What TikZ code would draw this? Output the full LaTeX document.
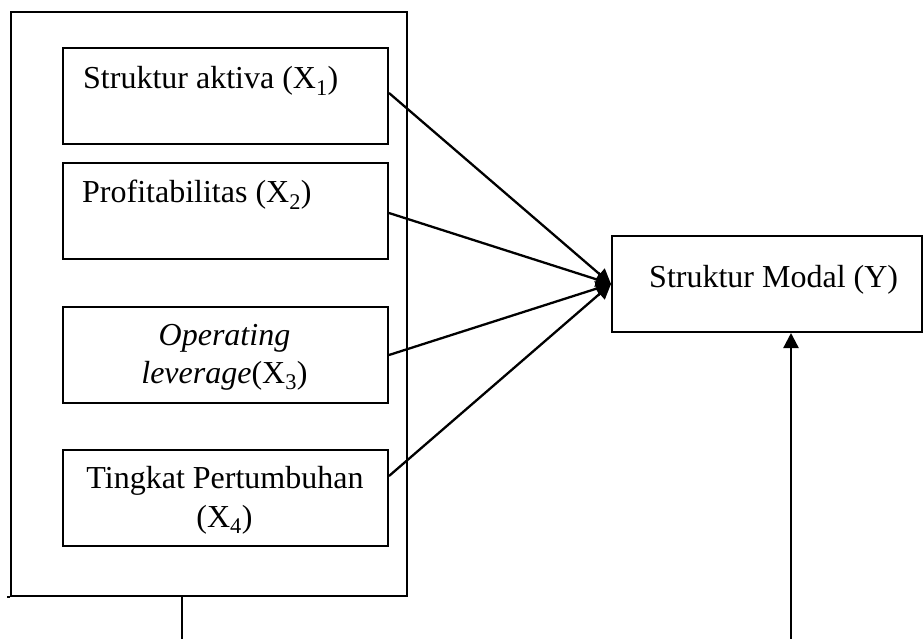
\documentclass[tikz,border=0pt]{standalone}
\usepackage{fontspec}
\setmainfont{Liberation Serif}
\usetikzlibrary{arrows.meta,calc}
\begin{document}
\begin{tikzpicture}[x=1pt,y=-1pt,
  box/.style={draw,line width=2pt,rectangle,inner sep=0pt,anchor=north west,minimum width=325pt,minimum height=96pt},
  txt/.style={inner sep=0pt,font=\fontsize{32}{38}\selectfont},
  conn/.style={line width=2.3pt,-{Triangle[length=15pt,width=15pt]}},
  plain/.style={line width=2.3pt}]
\useasboundingbox (0,0) rectangle (923,639);
% outer box
\node[draw,line width=2.3pt,rectangle,inner sep=0pt,anchor=north west,minimum width=396pt,minimum height=584pt] (outer) at (10,11) {};
\coordinate (outerext) at ([xshift=-3pt]outer.south west);
\draw[plain] (outerext) -- (outer.south west);
% inner boxes
\node[box] (x1) at (62,47) {};
\node[box] (x2) at (62,162) {};
\node[box] (x3) at (62,306) {};
\node[box] (x4) at (62,449) {};
% Y box
\node[draw,line width=2pt,rectangle,inner sep=0pt,anchor=north west,minimum width=310pt,minimum height=96pt] (y) at (611,235) {};
% texts
\node[txt,anchor=base west] (t1) at (83,89) {Struktur aktiva (X\textsubscript{1})};
\node[txt,anchor=base west] (t2) at (82,203) {Profitabilitas (X\textsubscript{2})};
\node[txt,anchor=base] (t3a) at (224.5,345) {\textit{Operating}};
\node[txt,anchor=base] (t3b) at (224.5,383) {\textit{leverage}(X\textsubscript{3})};
\node[txt,anchor=base] (t4a) at (225,488) {Tingkat Pertumbuhan};
\node[txt,anchor=base] (t4b) at (224.5,527) {(X\textsubscript{4})};
\node[txt,anchor=base west] (ty) at (649,287) {Struktur Modal (Y)};
% connectors
\draw[conn] ([yshift=3pt]x1.east) -- (y.west);
\draw[conn] ([yshift=-2pt]x2.east) -- (y.west);
\draw[conn] (x3.east) -- (y.west);
\draw[conn] ([yshift=22pt]x4.east) -- (y.west);
% bottom lines
\coordinate (tailend) at (182,639);
\draw[plain] (outer.south -| tailend) -- (tailend);
\coordinate (upstart) at (791,639);
\draw[conn] (upstart) -- (upstart |- y.south);
\end{tikzpicture}
\end{document}
